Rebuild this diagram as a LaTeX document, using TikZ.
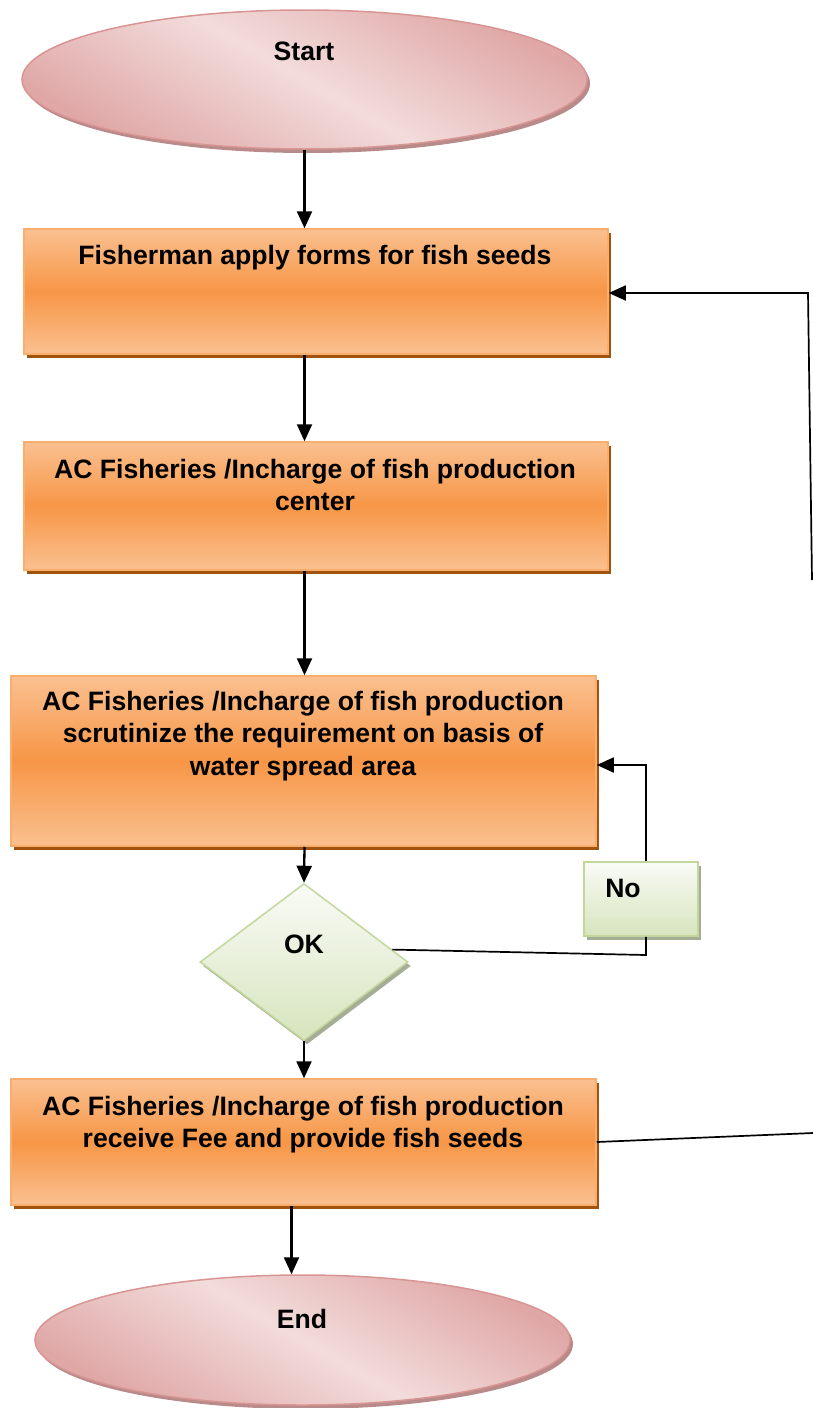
\documentclass[tikz,border=0pt]{standalone}
\usepackage{fontspec}
\setmainfont{Liberation Sans}
\usetikzlibrary{shapes.geometric,arrows.meta,shadows}
\definecolor{orgmid}{HTML}{F79646}
\definecolor{orglight}{HTML}{FAC090}
\definecolor{orgedge}{HTML}{F9AE6E}
\definecolor{orgshadow}{HTML}{A0520F}
\definecolor{pinklight}{HTML}{F2DCDB}
\definecolor{pinkdark}{HTML}{DFA7A6}
\definecolor{pinkedge}{HTML}{D99594}
\definecolor{pinkshadow}{HTML}{B88A8A}
\definecolor{greentop}{HTML}{F9FBF6}
\definecolor{greenbot}{HTML}{D7E4BD}
\definecolor{greenedge}{HTML}{C3D69B}
\definecolor{greenshadow}{HTML}{A6AD96}
\tikzset{
  procbox/.style={rectangle, inner sep=0, draw=orgedge, line width=1.5pt,
    top color=orglight, bottom color=orglight, middle color=orgmid,
    general shadow={fill=orgshadow, shadow xshift=3pt, shadow yshift=-4pt}},
  termin/.style={ellipse, inner sep=0, draw=pinkedge, line width=1.5pt,
    top color=pinkdark, bottom color=pinkdark, middle color=pinklight, shading angle=-30,
    general shadow={fill=pinkshadow, shadow xshift=3pt, shadow yshift=-4pt}},
  decis/.style={diamond, inner sep=0, draw=greenedge, line width=1.5pt,
    top color=greentop, bottom color=greenbot,
    general shadow={fill=greenshadow, shadow xshift=3pt, shadow yshift=-4pt}},
  nobox/.style={rectangle, inner sep=0, draw=greenedge, line width=1.5pt,
    top color=greentop, bottom color=greenbot,
    general shadow={fill=greenshadow, shadow xshift=3pt, shadow yshift=-4pt}},
  txt/.style={font=\fontsize{26.6}{32.5}\selectfont\bfseries, align=center, inner sep=0, anchor=north},
  tip/.style={-{Triangle[length=17pt,width=15pt]}},
  arr/.style={line width=2.3pt, tip},
  loopline/.style={line width=1.7pt},
}
\begin{document}
\begin{tikzpicture}[x=1pt,y=-1pt]
\useasboundingbox (0,0) rectangle (813,1408);
% shapes
\node[termin, minimum width=565pt, minimum height=139pt] (start) at (304.5,79.5) {};
\node[procbox, minimum width=584pt, minimum height=125pt] (box1) at (316,291.5) {};
\node[procbox, minimum width=584pt, minimum height=128pt] (box2) at (316,506) {};
\node[procbox, minimum width=585pt, minimum height=170pt] (box3) at (303.5,761) {};
\node[decis, minimum width=208pt, minimum height=157pt] (ok) at (304,962) {};
\node[nobox, minimum width=114pt, minimum height=74pt] (no) at (641,899) {};
\node[procbox, minimum width=585pt, minimum height=126pt] (box4) at (303.5,1142) {};
\node[termin, minimum width=535pt, minimum height=130pt] (end) at (302.5,1340) {};
% texts
\node[txt] (tstart) at (304,42) {Start};
\node[txt] (t1) at (315,245) {Fisherman apply forms for fish seeds};
\node[txt] (t2) at (315,459) {AC Fisheries /Incharge of fish production\\center};
\node[txt] (t3) at (303,691) {AC Fisheries /Incharge of fish production\\scrutinize the requirement on basis of\\water spread area};
\node[txt] (tok) at (304,935) {OK};
\node[txt] (tno) at (623,879) {No};
\node[txt] (t4) at (303,1096) {AC Fisheries /Incharge of fish production\\receive Fee and provide fish seeds};
\node[txt] (tend) at (302,1309) {End};
% connectors
\draw[arr] (start.south) -- (start.south |- box1.north);
\draw[arr] (box1.south -| start) -- (box2.north -| start);
\draw[arr] (box2.south -| start) -- (box3.north -| start);
\draw[arr] (box3.south -| start) -- (ok.north);
\draw[arr] (ok.south) -- (box4.north -| ok);
\draw[arr] ([xshift=-12pt]box4.south) -- ([xshift=-12pt]box4.south |- end.north);
% no loop
\coordinate (c1) at (646,955);
\coordinate (c2) at (646,765);
\draw[loopline] (ok.8) -- (c1) -- (c1 |- no.south);
\draw[loopline, tip] (c1 |- no.north) -- (c2) -- (c2 -| box3.east);
% feedback
\coordinate (r1) at (813,1133);
\coordinate (r2) at (812,580);
\coordinate (r3) at (808,293);
\draw[loopline] (box4.east) -- (r1);
\draw[loopline, tip] (r2) -- (r3) -- (r3 -| box1.east);
\end{tikzpicture}
\end{document}
